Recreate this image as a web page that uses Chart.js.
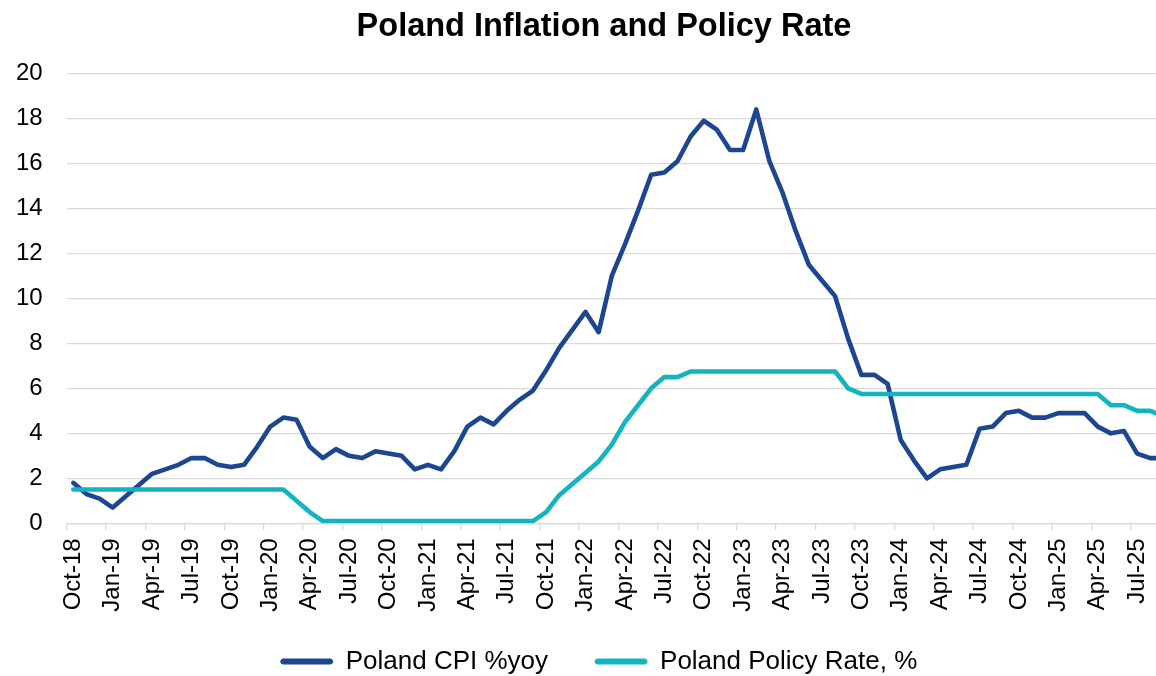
<!DOCTYPE html>
<html>
<head>
<meta charset="utf-8">
<script src="https://cdn.jsdelivr.net/npm/chart.js@4.4.1/dist/chart.umd.min.js"></script>
<style>
html,body{margin:0;padding:0;background:#fff;overflow:hidden;width:1156px;height:676px;}
#wrap{position:absolute;left:0;top:0;width:1204px;height:676px;}
</style>
</head>
<body>
<div id="wrap"><canvas id="c"></canvas></div>
<script>
const months = [
  'Oct-18','Nov-18','Dec-18',
  'Jan-19','Feb-19','Mar-19','Apr-19','May-19','Jun-19','Jul-19','Aug-19','Sep-19','Oct-19','Nov-19','Dec-19',
  'Jan-20','Feb-20','Mar-20','Apr-20','May-20','Jun-20','Jul-20','Aug-20','Sep-20','Oct-20','Nov-20','Dec-20',
  'Jan-21','Feb-21','Mar-21','Apr-21','May-21','Jun-21','Jul-21','Aug-21','Sep-21','Oct-21','Nov-21','Dec-21',
  'Jan-22','Feb-22','Mar-22','Apr-22','May-22','Jun-22','Jul-22','Aug-22','Sep-22','Oct-22','Nov-22','Dec-22',
  'Jan-23','Feb-23','Mar-23','Apr-23','May-23','Jun-23','Jul-23','Aug-23','Sep-23','Oct-23','Nov-23','Dec-23',
  'Jan-24','Feb-24','Mar-24','Apr-24','May-24','Jun-24','Jul-24','Aug-24','Sep-24','Oct-24','Nov-24','Dec-24',
  'Jan-25','Feb-25','Mar-25','Apr-25','May-25','Jun-25','Jul-25','Aug-25','Sep-25'
];

// Labels shown on the x axis (every third month)
const tickLabels = [
  'Oct-18','Jan-19','Apr-19','Jul-19','Oct-19','Jan-20','Apr-20','Jul-20','Oct-20',
  'Jan-21','Apr-21','Jul-21','Oct-21','Jan-22','Apr-22','Jul-22','Oct-22','Jan-23',
  'Apr-23','Jul-23','Oct-23','Jan-24','Apr-24','Jul-24','Oct-24','Jan-25','Apr-25','Jul-25'
];

const cpi = [
  1.8,1.3,1.1,
  0.7,1.2,1.7,2.2,2.4,2.6,2.9,2.9,2.6,2.5,2.6,3.4,
  4.3,4.7,4.6,3.4,2.9,3.3,3.0,2.9,3.2,3.1,3.0,2.4,
  2.6,2.4,3.2,4.3,4.7,4.4,5.0,5.5,5.9,6.8,7.8,8.6,
  9.4,8.5,11.0,12.4,13.9,15.5,15.6,16.1,17.2,17.9,17.5,16.6,
  16.6,18.4,16.1,14.7,13.0,11.5,10.8,10.1,8.2,6.6,6.6,6.2,
  3.7,2.8,2.0,2.4,2.5,2.6,4.2,4.3,4.9,5.0,4.7,4.7,
  4.9,4.9,4.9,4.3,4.0,4.1,3.1,2.9,2.9
];

const policyRate = [
  1.5,1.5,1.5,
  1.5,1.5,1.5,1.5,1.5,1.5,1.5,1.5,1.5,1.5,1.5,1.5,
  1.5,1.5,1.0,0.5,0.1,0.1,0.1,0.1,0.1,0.1,0.1,0.1,
  0.1,0.1,0.1,0.1,0.1,0.1,0.1,0.1,0.1,0.5,1.25,1.75,
  2.25,2.75,3.5,4.5,5.25,6.0,6.5,6.5,6.75,6.75,6.75,6.75,
  6.75,6.75,6.75,6.75,6.75,6.75,6.75,6.75,6.0,5.75,5.75,5.75,
  5.75,5.75,5.75,5.75,5.75,5.75,5.75,5.75,5.75,5.75,5.75,5.75,
  5.75,5.75,5.75,5.75,5.25,5.25,5.0,5.0,4.75
];

const seriesNames = ['Poland CPI %yoy', 'Poland Policy Rate, %'];
const seriesColors = ['#1c4790', '#12b4c0'];
const yMin = 0, yMax = 20, yStep = 2;

Chart.defaults.font.family = "'Liberation Sans', Arial, sans-serif";
Chart.defaults.color = '#000';

// Layout tweaks: fixed legend height, unclipped x labels, centred title/legend
const layoutTweaks = {
  id: 'layoutTweaks',
  beforeLayout(chart) {
    const lg = chart.legend;
    if (lg && !lg._fixed) {
      const origFit = lg.fit.bind(lg);
      lg.fit = function () { origFit(); this.height = 74.5; };
      lg._fixed = true;
    }
  },
  afterLayout(chart) {
    chart.scales.x.bottom = chart.height;
    if (chart.titleBlock) { chart.titleBlock.left += 12; chart.titleBlock.right += 12; }
    if (chart.legend) { chart.legend.left += 7; chart.legend.right += 7; }
  }
};

new Chart(document.getElementById('c'), {
  type: 'line',
  plugins: [layoutTweaks],
  data: {
    labels: months,
    datasets: [
      { label: seriesNames[0], data: cpi, borderColor: seriesColors[0], backgroundColor: seriesColors[0],
        borderWidth: 4.6, pointRadius: 0, tension: 0, borderJoinStyle: 'round', borderCapStyle: 'round', order: 1 },
      { label: seriesNames[1], data: policyRate, borderColor: seriesColors[1], backgroundColor: seriesColors[1],
        borderWidth: 4.6, pointRadius: 0, tension: 0, borderJoinStyle: 'round', borderCapStyle: 'round', order: 0 }
    ]
  },
  options: {
    responsive: true,
    maintainAspectRatio: false,
    animation: false,
    layout: { padding: { left: 14, right: 34, top: 0, bottom: 0 } },
    plugins: {
      title: { display: true, text: 'Poland Inflation and Policy Rate', color: '#000',
        font: { size: 32.5, weight: 'bold' }, padding: { top: 8, bottom: 26.5 } },
      legend: {
        position: 'bottom',
        labels: {
          boxWidth: 52, boxHeight: 5, padding: 47, color: '#000', font: { size: 26 },
          useBorderRadius: true, borderRadius: 2.5,
          sort: (a, b) => a.datasetIndex - b.datasetIndex,
          generateLabels(chart) {
            const items = Chart.defaults.plugins.legend.labels.generateLabels(chart);
            items.forEach(it => { it.lineWidth = 1; it.strokeStyle = it.fillStyle; });
            return items;
          }
        }
      },
      tooltip: { enabled: false }
    },
    scales: {
      x: {
        offset: true,
        afterFit(scale) { scale.height = 78.2; scale.paddingLeft = 0; scale.paddingRight = 0; },
        grid: { offset: true, drawOnChartArea: false, drawTicks: true, tickLength: 7, lineWidth: 1.3,
          color: (c) => (c.index % 3 === 0 ? '#d9d9d9' : 'rgba(0,0,0,0)') },
        border: { display: true, color: '#d9d9d9', width: 1.3 },
        ticks: { autoSkip: false, maxRotation: 90, minRotation: 90, padding: 8, color: '#000',
          font: { size: 24 },
          callback: (v, i) => (tickLabels.includes(months[i]) ? months[i] : '') }
      },
      y: {
        min: yMin, max: yMax,
        afterFit(scale) { scale.width = 52.7; scale.paddingTop = 0; scale.paddingBottom = 0; },
        ticks: { stepSize: yStep, padding: 24, color: '#000', font: { size: 24 } },
        grid: { color: '#d9d9d9', lineWidth: 1.3, drawTicks: false },
        border: { display: false }
      }
    }
  }
});
</script>
</body>
</html>
